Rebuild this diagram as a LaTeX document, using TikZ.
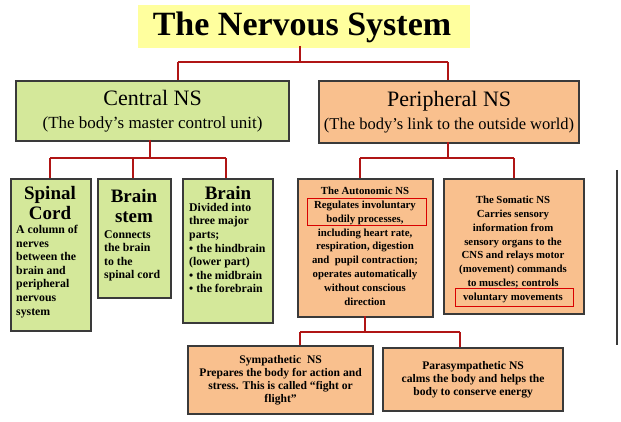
\documentclass[tikz,border=0pt]{standalone}
\usepackage{fontspec}
\setmainfont{Liberation Serif}
\definecolor{ygl}{HTML}{FFFF9E}
\definecolor{grn}{HTML}{D4E89A}
\definecolor{org}{HTML}{F9C08E}
\definecolor{lnk}{HTML}{B01515}
\definecolor{brd}{HTML}{3A3A3A}
\begin{document}
\begin{tikzpicture}[x=1pt,y=-1pt,
 box/.style={draw=brd,line width=2.2pt,anchor=north west,inner sep=2pt},
 lnkl/.style={draw=lnk,line width=2pt},
 hl/.style={draw=red!85!black,line width=1pt},
 body/.style={inner sep=0pt,font=\bfseries\fontsize{11.8}{13.6}\selectfont},
 head/.style={inner sep=0pt,align=center,font=\bfseries\fontsize{19}{19.5}\selectfont}]
\useasboundingbox (0,0) rectangle (621,422);
\fill[ygl] (138,5) rectangle (470,48);
\node[font=\bfseries\fontsize{34}{35}\selectfont] (title) at (302,27) {The Nervous System};
% level 1
\node[box,fill=grn,minimum width=273pt,minimum height=60pt] (cns) at (15,80) {};
\node[font=\fontsize{22}{23}\selectfont,align=center] at (cns.center) {Central NS\\{\fontsize{17}{19}\selectfont (The body's master control unit)}};
\node[box,fill=org,minimum width=260pt,minimum height=62pt] (pns) at (318,80) {};
\node[font=\fontsize{22}{23}\selectfont,align=center] at (pns.center) {Peripheral NS\\{\fontsize{16.5}{19}\selectfont (The body's link to the outside world)}};
\coordinate (t1) at (300,62);
\draw[lnkl] (title.south -| t1) -- (t1) (178,62) -- (448,62) (178,62) -- (178,80) (448,62) -- (448,80);
% CNS children
\node[box,fill=grn,minimum width=80pt,minimum height=152pt] (sc) at (10,178) {};
\node[head] at (50,203) {Spinal\\Cord};
\node[body,anchor=north west,align=left] at (16,225) {A column of\\nerves\\between the\\brain and\\peripheral\\nervous\\system};
\node[box,fill=grn,minimum width=73pt,minimum height=119pt] (bs) at (97,178) {};
\node[head] at (134,206) {Brain\\stem};
\node[body,anchor=north west,align=left] at (104,230) {Connects\\the brain\\to the\\spinal cord};
\node[box,fill=grn,minimum width=90pt,minimum height=144pt] (br) at (182,178) {};
\node[head] at (228,193) {Brain};
\node[body,anchor=north west,align=left] at (189,203) {Divided into\\three major\\parts;\\{\textbullet} the hindbrain\\(lower part)\\{\textbullet} the midbrain\\{\textbullet} the forebrain};
\draw[lnkl] (150,140) -- (150,158) (50,158) -- (226,158) (50,158) -- (50,178) (133,158) -- (133,178) (226,158) -- (226,178);
% PNS children
\node[box,fill=org,minimum width=135pt,minimum height=138pt] (au) at (297,178) {};
\node[body,anchor=north,align=center,font=\bfseries\fontsize{10.8}{13.8}\selectfont] at (365,187) {The Autonomic NS\\Regulates involuntary\\bodily processes,\\including heart rate,\\respiration, digestion\\and\ \ pupil contraction;\\operates automatically\\without conscious\\direction};
\node[box,fill=org,minimum width=140pt,minimum height=135pt] (so) at (443,178) {};
\node[body,anchor=north,align=center,font=\bfseries\fontsize{10.8}{13.8}\selectfont] at (513,196) {The Somatic NS\\Carries sensory\\information from\\sensory organs to the\\CNS and relays motor\\(movement) commands\\to muscles; controls\\voluntary movements};
\draw[hl] (307,199) rectangle (426,226);
\draw[hl] (455,288) rectangle (573,306);
\draw[lnkl] (448,142) -- (448,158) (360,158) -- (514,158) (360,158) -- (360,178) (514,158) -- (514,178);
% autonomic children
\node[box,fill=org,minimum width=185pt,minimum height=68pt] (sy) at (187,345) {};
\node[body,align=center,font=\bfseries\fontsize{11.6}{13}\selectfont] at (sy.center) {Sympathetic\ \ NS\\Prepares the body for action and\\stress. This is called ``fight or\\flight''};
\node[box,fill=org,minimum width=180pt,minimum height=63pt] (ps) at (382,347) {};
\node[body,align=center,font=\bfseries\fontsize{11.6}{13}\selectfont] at (ps.center) {Parasympathetic NS\\calms the body and helps the\\body to conserve energy};
\draw[lnkl] (365,316) -- (365,332) (300,332) -- (460,332) (300,332) -- (300,345) (460,332) -- (460,347);
\draw[brd,line width=2pt] (617,170) -- (617,345);
\end{tikzpicture}
\end{document}
